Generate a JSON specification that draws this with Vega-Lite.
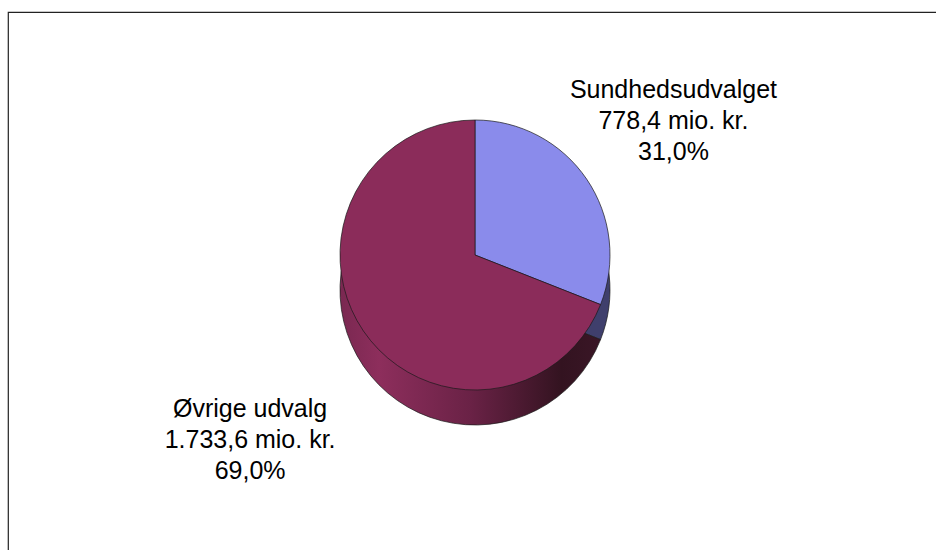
{
  "$schema": "https://vega.github.io/schema/vega-lite/v6.json",
  "width": 960,
  "height": 580,
  "padding": {"left": 8, "top": 12, "right": 0, "bottom": 0},
  "background": "#ffffff",
  "view": {"stroke": "#222222", "strokeWidth": 1.2},
  "config": {"view": {"stroke": "#222222", "strokeWidth": 1.2}},
  "data": {
    "values": [
      {"nr": 1, "udvalg": "Sundhedsudvalget", "beloeb": 778.4, "andel": 31.0, "tekst": "Sundhedsudvalget\n778,4 mio. kr.\n31,0%"},
      {"nr": 2, "udvalg": "Øvrige udvalg", "beloeb": 1733.6, "andel": 69.0, "tekst": "Øvrige udvalg\n1.733,6 mio. kr.\n69,0%"}
    ]
  },
  "encoding": {
    "theta": {"field": "beloeb", "type": "quantitative", "stack": true},
    "order": {"field": "nr", "type": "quantitative"}
  },
  "layer": [
    {
      "mark": {"type": "arc", "radius": 135, "x": {"expr": "width/2 - 13"}, "y": {"expr": "height/2 - 12"}, "stroke": "#1a1a1a", "strokeWidth": 0.7},
      "encoding": {
        "fill": {
          "condition": {"test": "datum.udvalg === 'Sundhedsudvalget'", "value": "#3F3F6C"},
          "value": {
            "gradient": "linear", "x1": 0, "y1": 0, "x2": 1, "y2": 0,
            "stops": [
              {"offset": 0, "color": "#7A2851"},
              {"offset": 0.15, "color": "#8D2E5C"},
              {"offset": 0.5, "color": "#6A2246"},
              {"offset": 0.85, "color": "#331320"},
              {"offset": 1, "color": "#3A1626"}
            ]
          }
        }
      }
    },
    {
      "mark": {"type": "arc", "radius": 135, "x": {"expr": "width/2 - 13"}, "y": {"expr": "height/2 - 47"}, "stroke": "#1a1a1a", "strokeWidth": 0.7},
      "encoding": {
        "fill": {
          "field": "udvalg", "type": "nominal", "legend": null,
          "scale": {"domain": ["Sundhedsudvalget", "Øvrige udvalg"], "range": ["#8A8BEB", "#8B2C5A"]}
        }
      }
    },
    {
      "mark": {
        "type": "text",
        "x": {"expr": "width/2 - 13"},
        "y": {"expr": "height/2 - 47"},
        "radius": {"expr": "datum.andel > 50 ? 272 : 240"},
        "dy": {"expr": "datum.andel > 50 ? 1 : -30"},
        "lineBreak": "\n",
        "lineHeight": 31,
        "font": "Liberation Sans",
        "fontSize": 25,
        "color": "#000000",
        "align": "center",
        "baseline": "middle"
      },
      "encoding": {
        "text": {"field": "tekst", "type": "nominal"}
      }
    }
  ]
}
